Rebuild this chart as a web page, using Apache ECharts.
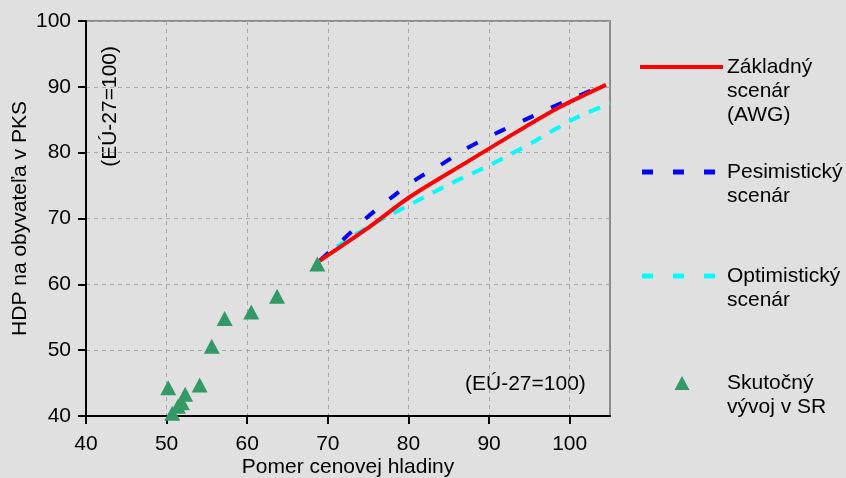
<!DOCTYPE html>
<html>
<head>
<meta charset="utf-8">
<script src="https://cdn.jsdelivr.net/npm/echarts@6/dist/echarts.min.js"></script>
<style>
html,body{margin:0;padding:0;background:#e0e0e0;}
#chart{width:846px;height:478px;}
</style>
</head>
<body>
<div id="chart"></div>
<script>
// Historical data (Skutočný vývoj v SR)
var histX = [50.2, 50.7, 51.4, 51.9, 52.3, 54.1, 55.6, 57.2, 60.5, 63.7, 68.7];
var histY = [44.3, 40.4, 41.5, 42.0, 43.3, 44.7, 50.6, 54.8, 55.8, 58.2, 63.1];
// Základný scenár (AWG)
var baseX = [69.0, 74.9, 80.2, 87.3, 93.5, 98.9, 104.5];
var baseY = [63.6, 68.5, 73.3, 78.6, 83.2, 87.0, 90.3];
// Pesimistický scenár
var pesX = [69.0, 71.8, 74.7, 77.8, 80.9, 84.2, 87.3, 90.8, 94.3, 97.8, 101.4, 104.5];
var pesY = [63.6, 66.7, 70.0, 73.1, 75.9, 78.3, 80.7, 82.9, 84.9, 86.9, 88.8, 90.4];
// Optimistický scenár
var optX = [69.0, 71.1, 75.7, 80.5, 85.4, 90.4, 95.6, 100.3, 105.0];
var optY = [63.6, 65.7, 69.2, 72.3, 75.4, 78.3, 81.7, 85.0, 87.5];

var xTicks = [40, 50, 60, 70, 80, 90, 100];
var yTicks = [40, 50, 60, 70, 80, 90, 100];

function zip(a, b) { return a.map(function (v, i) { return [v, b[i]]; }); }

var FONT = "'Liberation Sans', Arial, sans-serif";
var FS = 21;
var chart = echarts.init(document.getElementById('chart'));
chart.setOption({
  backgroundColor: '#e0e0e0',
  animation: false,
  textStyle: { fontFamily: FONT },
  grid: {
    left: 86, right: 236, top: 21, bottom: 62,
    outerBoundsMode: 'none', containLabel: false,
    show: true, borderColor: '#8c8c8c', borderWidth: 2, backgroundColor: 'transparent'
  },
  xAxis: {
    type: 'value', min: 40, max: 105, interval: 10,
    name: 'Pomer cenovej hladiny', nameLocation: 'middle', nameGap: 41, nameMoveOverlap: false,
    nameTextStyle: { fontSize: FS, color: '#000', fontFamily: FONT },
    axisLine: { show: true, onZero: false, lineStyle: { color: '#000', width: 2 } },
    axisTick: { show: true, length: 8, lineStyle: { color: '#000', width: 2 }, customValues: xTicks },
    axisLabel: { fontSize: FS, color: '#000', margin: 18, fontFamily: FONT, customValues: xTicks },
    splitLine: { show: true, lineStyle: { color: '#a8a8a8', width: 1, type: [4, 4] } }
  },
  yAxis: {
    type: 'value', min: 40, max: 100, interval: 10,
    name: 'HDP na obyvateľa v PKS', nameLocation: 'middle', nameGap: 55, nameRotate: 90, nameMoveOverlap: false,
    nameTextStyle: { fontSize: FS, color: '#000', fontFamily: FONT },
    axisLine: { show: true, onZero: false, lineStyle: { color: '#000', width: 2 } },
    axisTick: { show: true, length: 8, lineStyle: { color: '#000', width: 2 }, customValues: yTicks },
    axisLabel: { fontSize: FS, color: '#000', margin: 15, fontFamily: FONT, customValues: yTicks },
    splitLine: { show: true, lineStyle: { color: '#a8a8a8', width: 1, type: [4, 4] } }
  },
  series: [
    {
      name: 'Optimistický scenár', type: 'line', data: zip(optX, optY),
      showSymbol: false, smooth: 0.3, clip: true,
      lineStyle: { color: '#00ffff', width: 4, type: [12, 10] }, z: 2
    },
    {
      name: 'Pesimistický scenár', type: 'line', data: zip(pesX, pesY),
      showSymbol: false, smooth: 0.3, clip: true,
      lineStyle: { color: '#0000ff', width: 4, type: [12, 19] }, z: 3
    },
    {
      name: 'Základný scenár (AWG)', type: 'line', data: zip(baseX, baseY),
      showSymbol: false, smooth: 0.3, clip: true,
      lineStyle: { color: '#ff0000', width: 4 }, z: 4
    },
    {
      name: 'Skutočný vývoj v SR', type: 'scatter', data: zip(histX, histY),
      symbol: 'triangle', symbolSize: [16, 15],
      itemStyle: { color: '#339966', opacity: 1 }, z: 5
    }
  ],
  graphic: [
    { type: 'text', left: 100, top: 46, rotation: Math.PI / 2,
      style: { text: '(EÚ-27=100)', font: FS + 'px ' + FONT, fill: '#000' } },
    { type: 'text', x: 465, y: 374,
      style: { text: '(EÚ-27=100)', font: FS + 'px ' + FONT, fill: '#000' } },
    // legend
    { type: 'line', shape: { x1: 640, y1: 67, x2: 723, y2: 67 },
      style: { stroke: '#ff0000', lineWidth: 4 } },
    { type: 'text', x: 727, y: 55,
      style: { text: 'Základný\nscenár\n(AWG)', font: FS + 'px ' + FONT, fill: '#000', lineHeight: 24 } },
    { type: 'line', shape: { x1: 642, y1: 172, x2: 715, y2: 172 },
      style: { stroke: '#0000ff', lineWidth: 5, lineDash: [11, 20] } },
    { type: 'text', x: 727, y: 160,
      style: { text: 'Pesimistický\nscenár', font: FS + 'px ' + FONT, fill: '#000', lineHeight: 24 } },
    { type: 'line', shape: { x1: 642, y1: 276, x2: 715, y2: 276 },
      style: { stroke: '#00ffff', lineWidth: 5, lineDash: [11, 20] } },
    { type: 'text', x: 727, y: 264,
      style: { text: 'Optimistický\nscenár', font: FS + 'px ' + FONT, fill: '#000', lineHeight: 24 } },
    { type: 'polygon', shape: { points: [[682, 376], [689.5, 390], [674.5, 390]] },
      style: { fill: '#339966' } },
    { type: 'text', x: 727, y: 371,
      style: { text: 'Skutočný\nvývoj v SR', font: FS + 'px ' + FONT, fill: '#000', lineHeight: 24 } }
  ]
});
</script>
</body>
</html>
